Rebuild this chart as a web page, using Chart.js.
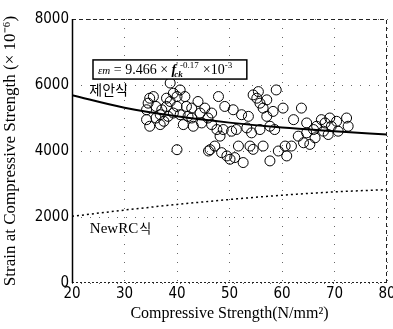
<!DOCTYPE html>
<html>
<head>
<meta charset="utf-8">
<script src="https://cdn.jsdelivr.net/npm/chart.js@4/dist/chart.umd.min.js"></script>
<style>
html,body{margin:0;padding:0;background:#fff;}
#wrap{width:393px;height:329px;position:relative;}
</style>
</head>
<body>
<div id="wrap"><canvas id="c" width="393" height="329"></canvas></div>
<script>
// Scatter data (compressive strength N/mm2, strain x10^-6)
const strengthX = [34.2,34.8,35.5,34.2,34.8,36.0,36.0,36.8,36.8,38.0,38.0,38.7,39.3,38.3,38.7,40.0,40.6,40.0,41.5,40.6,41.2,40.0,42.8,42.8,43.1,44.0,44.4,44.7,45.3,45.9,46.6,46.6,46.3,46.0,47.9,47.6,47.2,48.2,48.5,49.1,49.5,50.1,50.7,51.0,51.3,51.7,52.6,52.3,53.3,53.6,53.9,54.2,54.5,54.5,55.2,55.5,55.8,56.4,57.1,56.4,55.8,57.1,57.7,57.7,58.3,58.6,58.9,59.3,60.2,60.6,60.9,61.8,62.2,63.1,63.7,64.1,64.7,64.7,65.3,66.0,66.3,66.6,67.5,67.9,68.2,68.8,69.1,69.4,70.4,70.7,72.3,72.6,34.5,37.5,37.1,41.8,42.1,39.3,48.8,50.4];
const strainY  = [5250,5600,5650,4950,4750,5000,5350,5100,4800,5600,5350,6060,5750,5050,5500,5650,5850,5350,5650,5100,4800,4040,5300,5000,4750,5500,5150,4850,5300,5000,5150,4800,4040,4000,5650,4650,4150,4450,3950,5350,3850,3750,5250,3800,4650,4150,3650,5100,4700,5050,4150,4550,4050,5700,5600,5800,5450,5300,5550,4150,4650,5050,4750,3700,5200,4650,5850,4000,5300,4150,3850,4150,4950,4450,5300,4250,4850,4550,4200,4650,4400,4750,4950,4600,4850,4500,5000,4750,4900,4600,5000,4750,5450,4900,5250,5350,5050,5150,4650,4600];
// Curves
const curveX = [20,30,40,50,60,70,80];
const proposedY = [5690,5310,5050,4860,4710,4600,4500];
const newRCY = [2020,2210,2380,2530,2660,2760,2830];
const xTicks = [20,30,40,50,60,70,80];
const yTicks = [0,2000,4000,6000,8000];

const toPts = (xs, ys) => xs.map((x,i)=>({x:x,y:ys[i]}));

const frame = {
  id:'frame',
  afterDatasetsDraw(chart){
    const {ctx, chartArea:a, scales} = chart;
    ctx.save();
    ctx.strokeStyle='#222';
    ctx.lineWidth=1;
    // top & right: dashed
    ctx.setLineDash([4,3]);
    ctx.beginPath();
    ctx.moveTo(a.left,a.top+0.5); ctx.lineTo(a.right-0.5,a.top+0.5); ctx.lineTo(a.right-0.5,a.bottom);
    ctx.stroke();
    // bottom: dotted
    ctx.setLineDash([2,2]);
    ctx.beginPath();
    ctx.moveTo(a.left,a.bottom-0.5); ctx.lineTo(a.right,a.bottom-0.5);
    ctx.stroke();
    // left: solid
    ctx.setLineDash([]);
    ctx.strokeStyle='#000';
    ctx.lineWidth=1.5;
    ctx.beginPath();
    ctx.moveTo(a.left+0.5,a.top); ctx.lineTo(a.left+0.5,a.bottom);
    ctx.stroke();
    // annotation box
    const x0 = scales.x.getPixelForValue(24), y0 = scales.y.getPixelForValue(6760);
    const x1 = scales.x.getPixelForValue(53.3), y1 = scales.y.getPixelForValue(6180);
    ctx.fillStyle='#fff';
    ctx.fillRect(x0,y0,x1-x0,y1-y0);
    ctx.lineWidth=1.5; ctx.strokeStyle='#000';
    ctx.strokeRect(x0,y0,x1-x0,y1-y0);
    ctx.fillStyle='#000';
    ctx.textBaseline='alphabetic';
    let cx = x0+5, by = y1-5;
    const put=(t,f,dy=0)=>{ctx.font=f;ctx.fillText(t,cx,by+dy);cx+=ctx.measureText(t).width;};
    put('εm','italic 11px "Liberation Serif"');
    put(' = 9.466 × ','14px "Liberation Serif"');
    put('f','italic bold 14px "Liberation Serif"');
    const fx=cx;
    put("'",'9px "Liberation Serif"',-6);
    put(' -0.17','9px "Liberation Serif"',-6);
    const after=cx;
    cx=fx-2; put('ck','italic bold 9px "Liberation Serif"',3);
    cx=after+4;
    put('×10','14px "Liberation Serif"');
    put('-3','9px "Liberation Serif"',-6);
    // curve labels
    ctx.font='14px "Noto Sans CJK KR"';
    ctx.fillText('제안식', scales.x.getPixelForValue(23.3), scales.y.getPixelForValue(5690));
    ctx.font='15px "Liberation Serif"';
    const nx=scales.x.getPixelForValue(23.4), ny=scales.y.getPixelForValue(1530);
    ctx.fillText('NewRC', nx, ny);
    const w=ctx.measureText('NewRC').width;
    ctx.font='13px "Noto Sans CJK KR"';
    ctx.fillText('식', nx+w+1, ny);
    ctx.restore();
  }
};

new Chart(document.getElementById('c'), {
  type:'scatter',
  data:{datasets:[
    {label:'data', data:toPts(strengthX,strainY), pointStyle:'circle', pointRadius:5, pointBackgroundColor:'rgba(0,0,0,0)', pointBorderColor:'#000', pointBorderWidth:1, showLine:false},
    {label:'proposed', data:toPts(curveX,proposedY), showLine:true, borderColor:'#000', borderWidth:2, pointRadius:0, cubicInterpolationMode:'monotone'},
    {label:'NewRC', data:toPts(curveX,newRCY), showLine:true, borderColor:'#000', borderWidth:1.5, borderDash:[2,3], pointRadius:0, cubicInterpolationMode:'monotone'}
  ]},
  options:{
    responsive:false, animation:false,
    layout:{padding:{left:0,right:6,top:19,bottom:0}},
    plugins:{legend:{display:false},tooltip:{enabled:false}},
    scales:{
      x:{type:'linear',min:20,max:80,
        afterBuildTicks:s=>{s.ticks=xTicks.map(v=>({value:v}));},
        afterFit:s=>{s.height=46;s.paddingRight=0;s.paddingLeft=0;},
        ticks:{color:'#000',font:{family:'"DejaVu Sans Condensed"',size:15},padding:2,maxRotation:0,callback:v=>String(v)},
        grid:{color:'#666',lineWidth:1,drawTicks:false,tickLength:0},
        border:{display:false,dash:[1,8]},
        title:{display:true,text:'Compressive Strength(N/mm²)',color:'#000',font:{family:'"Liberation Serif"',size:16},padding:{top:0,bottom:6}}
      },
      y:{type:'linear',min:0,max:8000,
        afterBuildTicks:s=>{s.ticks=yTicks.map(v=>({value:v}));},
        afterFit:s=>{s.width=72;},
        ticks:{color:'#000',font:{family:'"DejaVu Sans Condensed"',size:15},padding:3,callback:v=>String(v)},
        grid:{color:'#666',lineWidth:1,drawTicks:false,tickLength:0},
        border:{display:false,dash:[1,8]},
        title:{display:true,text:'Strain at Compressive Strength (× 10⁻⁶)',color:'#000',font:{family:'"Liberation Serif"',size:17},padding:{top:0,bottom:2}}
      }
    }
  },
  plugins:[frame]
});
</script>
</body>
</html>
